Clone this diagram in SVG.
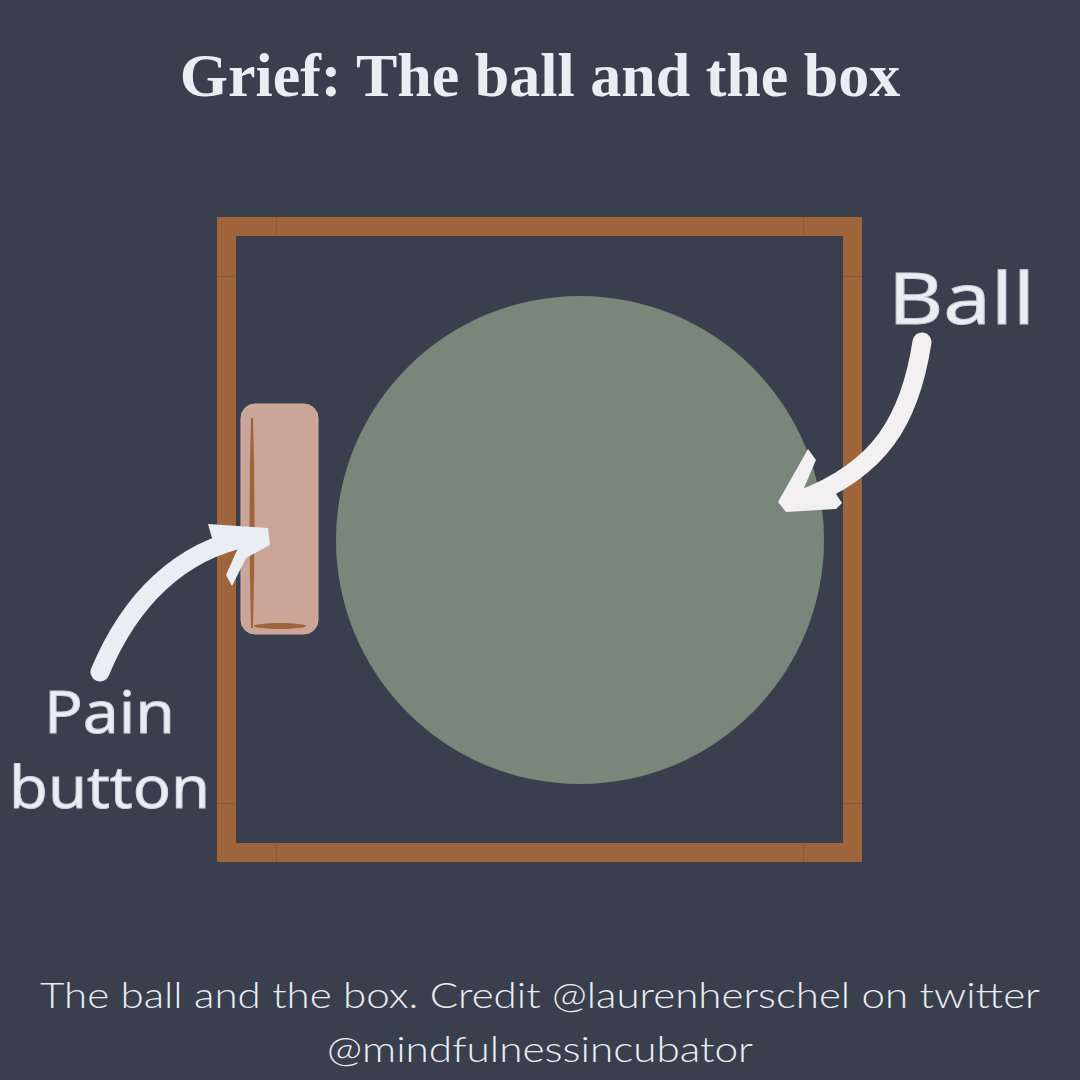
<svg xmlns="http://www.w3.org/2000/svg" width="1080" height="1080" viewBox="0 0 1080 1080">
<style>
.title{font-family:"Liberation Serif",serif;font-weight:bold;font-size:62px;fill:#e8eef4}
.hand{font-family:"Noto Sans","DejaVu Sans",sans-serif;fill:#e8eef4;stroke:#c9d2dc;stroke-width:1}
.foot{font-family:"Lato","Open Sans",sans-serif;font-weight:300;font-size:36px;fill:#e8eef4}
.arrow{fill:none;stroke-linecap:round;stroke-width:19}
</style>
<rect width="1080" height="1080" fill="#3a3f4e"/>
<text class="title" x="540" y="96" text-anchor="middle">Grief: The ball and the box</text>
<g id="box">
<rect x="226.5" y="226.5" width="626" height="626" fill="none" stroke="#a0643c" stroke-width="19"/>
<g stroke="#7a5040" stroke-width="1" opacity="0.6">
<line x1="276.5" y1="217" x2="276.5" y2="236"/>
<line x1="803.5" y1="217" x2="803.5" y2="236"/>
<line x1="217" y1="276.5" x2="236" y2="276.5"/>
<line x1="843" y1="276.5" x2="862" y2="276.5"/>
<line x1="276.5" y1="843" x2="276.5" y2="862"/>
<line x1="803.5" y1="843" x2="803.5" y2="862"/>
<line x1="217" y1="803.5" x2="236" y2="803.5"/>
<line x1="843" y1="803.5" x2="862" y2="803.5"/>
</g>
</g>
<g id="ball">
<circle cx="580" cy="540" r="244" fill="#788779"/>
</g>
<g id="pain-button">
<rect x="241" y="404" width="77" height="230" rx="14" fill="#cba597" stroke="#d4b0a2" stroke-width="1"/>
<path d="M252 418 Q249 520 252 628 Q255 520 252 418 Z" fill="#a0643c" stroke="#a0643c" stroke-width="2"/>
<ellipse cx="280" cy="626" rx="26" ry="3" fill="#a0643c"/>
</g>
<g id="labels">
<text class="hand" x="888" y="324" font-size="72" textLength="147" lengthAdjust="spacingAndGlyphs">Ball</text>
<text class="hand" x="44" y="733" font-size="58" textLength="131" lengthAdjust="spacingAndGlyphs">Pain</text>
<text class="hand" x="9" y="808" font-size="58" textLength="201" lengthAdjust="spacingAndGlyphs">button</text>
</g>
<g id="connectors">
<path class="arrow" stroke="#f2f0f0" d="M922 342 C910 420 880 470 800 500"/>
<polygon fill="#f2f0f0" points="808,449 816,460 804,488 836,494 842,503 836,509 786,512 778,502"/>
<path class="arrow" stroke="#e8eef4" d="M100 672 C130 600 180 550 250 537"/>
<polygon fill="#e8eef4" points="208,524 268,528 270,545 246,558 232,586 226,575 238,548 212,538"/>
</g>
<text class="foot" x="40" y="1008" textLength="1000" lengthAdjust="spacingAndGlyphs">The ball and the box. Credit @laurenherschel on twitter</text>
<text class="foot" x="327" y="1062" textLength="426" lengthAdjust="spacingAndGlyphs">@mindfulnessincubator</text>
</svg>
